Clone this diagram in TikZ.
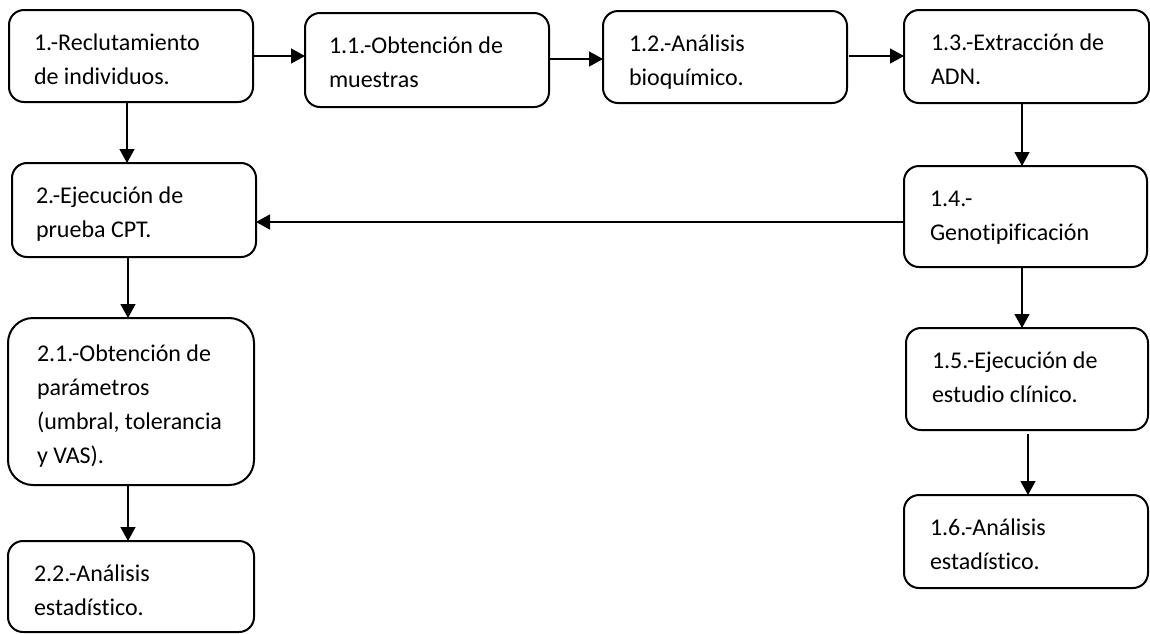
\documentclass[tikz,border=0pt]{standalone}
\usepackage{fontspec}
\setmainfont{Carlito}[Ligatures=NoCommon]
\usetikzlibrary{arrows.meta}
\tikzset{
  boxst/.style={draw=black, line width=2pt, rounded corners=15pt, inner sep=0pt, outer sep=0pt, fill=white},
  txt/.style={inner sep=0pt, outer sep=0pt, anchor=base west, font=\fontsize{24}{34}\selectfont},
  arr/.style={line width=1.3pt, -{Triangle[length=14pt,width=15pt]}}
}
\newcommand\bx[7]{%
  \node[boxst, anchor=north west, minimum width=#4pt-#2pt, minimum height=#5pt-#3pt] (#1) at (#2,#3) {};
  \node[txt] (#1t) at (#2+#6,#3+40) {\vtop{#7}};
}
\begin{document}
\begin{tikzpicture}[x=1pt,y=-1pt]
\useasboundingbox (0,0) rectangle (1150,633);
\bx{b1}{9}{10}{253}{102}{25}{\hbox{1.-Reclutamiento}\hbox{de individuos.}}
\bx{b11}{305}{13}{549}{107}{24}{\hbox{1.1.-Obtención de}\hbox{muestras}}
\bx{b12}{603}{11}{847}{103}{26}{\hbox{1.2.-Análisis}\hbox{bioquímico.}}
\bx{b13}{904}{10}{1149}{103}{27}{\hbox{1.3.-Extracción de}\hbox{ADN.}}
\bx{b2}{12}{163}{256}{257}{24}{\hbox{2.-Ejecución de}\hbox{prueba CPT.}}
\bx{b14}{904}{166}{1147}{267}{26}{\hbox{1.4.-}\hbox{Genotipificación}}
\node[boxst, rounded corners=25pt, anchor=north west, minimum width=246pt, minimum height=167pt] (b21) at (8,318) {};
\node[txt] (b21t) at (37,361) {\vtop{\hbox{2.1.-Obtención de}\hbox{parámetros}\hbox{(umbral, tolerancia}\hbox{y VAS).}}};
\bx{b22}{8}{541}{254}{632}{26}{\hbox{2.2.-Análisis}\hbox{estadístico.}}
\bx{b15}{906}{328}{1148}{430}{26}{\hbox{1.5.-Ejecución de}\hbox{estudio clínico.}}
\bx{b16}{904}{495}{1148}{588}{26}{\hbox{1.6.-Análisis}\hbox{estadístico.}}
\coordinate (cl1) at (127,0);
\coordinate (cl2) at (128,0);
\coordinate (cr1) at (1022,0);
\coordinate (cr2) at (1028,0);
\coordinate (ry1) at (0,56);
\coordinate (ry2) at (0,59);
\coordinate (ry3) at (0,222);
\draw[arr] (b1.east |- ry1) -- (b11.west |- ry1);
\draw[arr] (b11.east |- ry2) -- (b12.west |- ry2);
\draw[arr] ([xshift=2pt]b12.east |- ry1) -- (b13.west |- ry1);
\draw[arr] (b13.south -| cr1) -- (b14.north -| cr1);
\draw[arr] (b14.west |- ry3) -- (b2.east |- ry3);
\draw[arr] (b14.south -| cr1) -- (b15.north -| cr1);
\draw[arr] ([yshift=-4pt]b15.south -| cr2) -- (b16.north -| cr2);
\draw[arr] (b1.south -| cl1) -- (b2.north -| cl1);
\draw[arr] (b2.south -| cl2) -- (b21.north -| cl2);
\draw[arr] (b21.south -| cl2) -- (b22.north -| cl2);
\end{tikzpicture}
\end{document}
